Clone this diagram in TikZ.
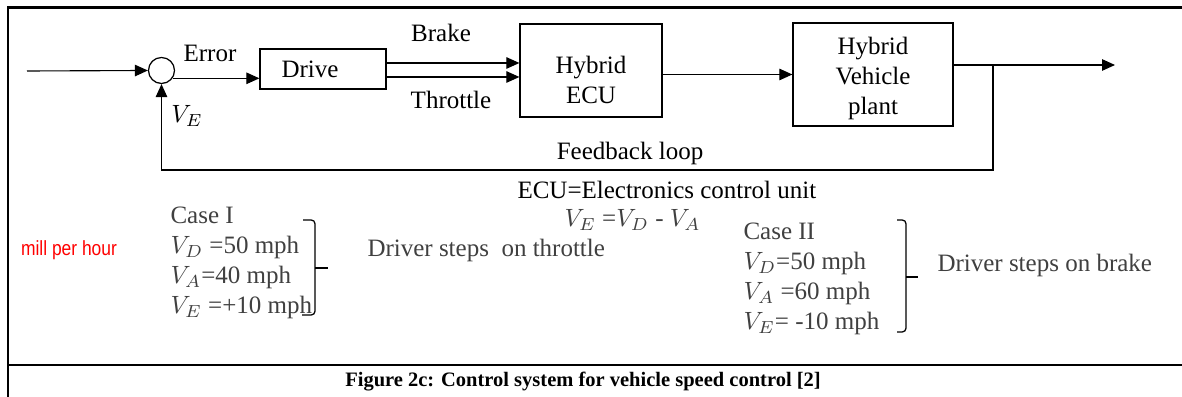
\documentclass[tikz,border=0pt]{standalone}
\usepackage{fontspec}
\setmainfont{Liberation Serif}
\newfontfamily\narrowsans[FakeStretch=0.85]{Liberation Sans}
\usetikzlibrary{arrows.meta,positioning}

\begin{document}
\begin{tikzpicture}[
    x=0.4pt, y=-0.4pt,
    >={Triangle[length=5.2pt,width=4.6pt]},
    font=\fontsize{10}{12}\selectfont,
    every node/.style={inner sep=0pt},
    block/.style={draw, line width=0.5pt},
    sig/.style={->, line width=0.45pt},
    brace/.style={line width=0.5pt, rounded corners=1.5pt},
    note/.style={text=black!75, align=left}
]

% Frame and caption rule
\useasboundingbox (0,0) rectangle (1182,397);
\draw[line width=0.9pt] (8,397) -- (8,7.5) -- (1182,7.5);
\draw[line width=0.9pt] (8,365) -- (1182,365);

% Blocks
\node[circle, draw, line width=0.5pt, minimum size=10.4pt] (sum) at (161.5,70.5) {};
\node[block, minimum width=50.4pt, minimum height=16pt,
      label={[xshift=-5.2pt]center:Drive}] (drive) at (323,69) {};
\node[block, minimum width=56.8pt, minimum height=37.2pt,
      label={[yshift=-3.8pt, align=center]center:{Hybrid\\ECU}}] (ecu) at (591,70.5) {};
\node[block, minimum width=64pt, minimum height=41.2pt,
      label={[yshift=-1.4pt, align=center]center:{Hybrid\\Vehicle\\plant}}] (plant) at (873,74.5) {};

% Points
\coordinate (in)  at (27,71);
\coordinate (tap) at (993,65);
\coordinate (out) at (1115,65);
\coordinate (fb)  at (993,170);
\coordinate (brk) at ([yshift=2.4pt]drive.east);
\coordinate (thr) at ([yshift=-3.2pt]drive.east);

% Forward path
\draw[sig] (in) -- (sum.west);
\draw[sig] (sum.-35) -- (sum.-35 -| drive.west);
\draw[sig] (brk) -- (brk -| ecu.west);
\draw[sig] (thr) -- (thr -| ecu.west);
\draw[sig] (ecu.east |- plant.west) -- (plant.west);
\draw[sig] (plant.east |- tap) -- (out);

% Feedback loop
\draw[sig] (tap) -- (fb) -| (sum.south);

% Labels
\node (err)      at (210,53)  {Error};
\node (brake)    at (441,33)  {Brake};
\node (throttle) at (451,100) {Throttle};
\node (ve)       at (187,116) {$V_E$};
\node (fbl)      at (630,153) {Feedback loop};
\node[anchor=west] (ecunote) at (517,190) {ECU=Electronics control unit};
\node[anchor=west, text=black!75] (veq) at (564,220) {$V_E$ =$V_D$ - $V_A$};

% Case I
\node[text=red, font=\narrowsans\fontsize{8.2}{9}\selectfont] (mph) at (69,250) {mill per hour};
\node[note, anchor=west] (case1) at (170,263)
    {Case I\\$V_D$ =50 mph\\$V_A$=40 mph\\$V_E$ =+10 mph};
\draw[brace] (303,220) -- (315,220) -- (315,315) -- (302,315);
\draw[brace] (315,268) -- (328,268);
\node[note, anchor=west] (drv1) at (367,250) {Driver steps\ \ on throttle};

% Case II
\node[note, anchor=west] (case2) at (743,279)
    {Case II\\$V_D$=50 mph\\$V_A$ =60 mph\\$V_E$= -10 mph};
\draw[brace] (897,220) -- (906,220) -- (906,332) -- (897,332);
\draw[brace] (906,277) -- (918,277);
\node[note, anchor=west] (drv2) at (937,265) {Driver steps on brake};

% Caption
\node[font=\bfseries\fontsize{8.2}{10}\selectfont] (cap) at (583,382)
    {Figure 2c: Control system for vehicle speed control [2]};

\end{tikzpicture}
\end{document}
